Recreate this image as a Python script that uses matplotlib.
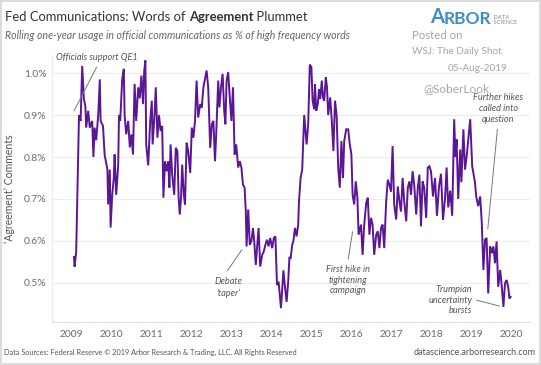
import matplotlib
matplotlib.use("Agg")
import matplotlib.pyplot as plt
from matplotlib.patches import Rectangle

plt.rcParams['font.family'] = ['Lato', 'DejaVu Sans']

# ---- data (decimal year, % of high-frequency words) ----
dates = [2009.075, 2009.09, 2009.13, 2009.16, 2009.20, 2009.24, 2009.28, 2009.32, 2009.36, 2009.38,
         2009.43, 2009.47, 2009.53, 2009.56, 2009.59, 2009.63, 2009.68, 2009.72, 2009.74, 2009.80,
         2009.84, 2009.91, 2009.93, 2009.97, 2009.99, 2010.03, 2010.07, 2010.09, 2010.13, 2010.18,
         2010.20, 2010.23, 2010.28, 2010.32, 2010.34, 2010.38, 2010.43, 2010.47, 2010.51, 2010.55,
         2010.59, 2010.63, 2010.68, 2010.72, 2010.76, 2010.80, 2010.83, 2010.86, 2010.88, 2010.93,
         2010.98, 2011.02, 2011.04, 2011.08, 2011.12, 2011.16, 2011.20, 2011.24, 2011.28, 2011.31,
         2011.35, 2011.39, 2011.43, 2011.46, 2011.49, 2011.53, 2011.58, 2011.62, 2011.66, 2011.69,
         2011.72, 2011.75, 2011.78, 2011.82, 2011.85, 2011.89, 2011.93, 2011.98, 2012.02, 2012.06,
         2012.10, 2012.14, 2012.18, 2012.23, 2012.27, 2012.31, 2012.35, 2012.39, 2012.43, 2012.48,
         2012.52, 2012.56, 2012.60, 2012.63, 2012.68, 2012.71, 2012.75, 2012.79, 2012.83, 2012.86,
         2012.89, 2012.93, 2012.98, 2013.01, 2013.05, 2013.09, 2013.13, 2013.18, 2013.22, 2013.26,
         2013.30, 2013.34, 2013.37, 2013.39, 2013.43, 2013.47, 2013.51, 2013.55, 2013.58, 2013.62,
         2013.65, 2013.69, 2013.73, 2013.78, 2013.82, 2013.86, 2013.90, 2013.94, 2013.98, 2014.03,
         2014.07, 2014.11, 2014.15, 2014.19, 2014.25, 2014.31, 2014.35, 2014.39, 2014.43, 2014.46,
         2014.49, 2014.53, 2014.56, 2014.60, 2014.64, 2014.68, 2014.70, 2014.74, 2014.78, 2014.83,
         2014.87, 2014.89, 2014.93, 2014.97, 2015.01, 2015.04, 2015.08, 2015.10, 2015.13, 2015.17,
         2015.20, 2015.23, 2015.27, 2015.30, 2015.33, 2015.37, 2015.40, 2015.43, 2015.48, 2015.52,
         2015.56, 2015.60, 2015.64, 2015.68, 2015.72, 2015.76, 2015.80, 2015.83, 2015.88, 2015.93,
         2015.97, 2016.01, 2016.04, 2016.08, 2016.12, 2016.16, 2016.19, 2016.25, 2016.29, 2016.33,
         2016.38, 2016.42, 2016.46, 2016.50, 2016.54, 2016.58, 2016.63, 2016.67, 2016.71, 2016.75,
         2016.79, 2016.83, 2016.88, 2016.92, 2016.96, 2017.00, 2017.04, 2017.08, 2017.13, 2017.17,
         2017.21, 2017.25, 2017.29, 2017.33, 2017.38, 2017.42, 2017.46, 2017.50, 2017.54, 2017.58,
         2017.63, 2017.67, 2017.71, 2017.75, 2017.79, 2017.83, 2017.88, 2017.92, 2017.96, 2018.00,
         2018.05, 2018.10, 2018.15, 2018.20, 2018.25, 2018.30, 2018.35, 2018.39, 2018.43, 2018.48,
         2018.53, 2018.58, 2018.61, 2018.64, 2018.68, 2018.73, 2018.76, 2018.81, 2018.85, 2018.89,
         2018.93, 2018.98, 2019.03, 2019.10, 2019.13, 2019.18, 2019.23, 2019.27, 2019.31, 2019.35,
         2019.39, 2019.43, 2019.48, 2019.52, 2019.56, 2019.60, 2019.64, 2019.68, 2019.73, 2019.77,
         2019.81, 2019.85, 2019.89, 2019.93, 2019.96, 2019.99]
values = [0.562, 0.539, 0.575, 0.71, 0.90, 0.886, 1.017, 0.94, 0.92, 0.87,
          0.91, 0.87, 0.886, 0.80, 0.87, 0.84, 0.90, 0.985, 0.886, 0.874,
          0.806, 0.77, 0.687, 0.77, 0.632, 0.71, 0.75, 0.806, 0.71, 0.78,
          0.90, 0.886, 0.985, 1.01, 0.90, 0.854, 0.886, 0.823, 0.854, 0.806,
          0.974, 0.886, 0.966, 0.94, 0.994, 0.926, 1.005, 1.03, 0.83, 0.78,
          0.886, 0.934, 0.83, 0.886, 0.966, 0.846, 0.90, 0.862, 0.874, 0.703,
          0.79, 0.766, 0.79, 0.727, 0.83, 0.758, 0.71, 0.822, 0.814, 0.703,
          0.663, 0.703, 0.782, 0.71, 0.687, 0.834, 0.814, 0.762, 0.87, 0.846,
          0.886, 0.982, 0.894, 0.926, 0.918, 0.966, 0.986, 1.006, 0.966, 0.822,
          0.878, 0.886, 0.79, 0.854, 0.982, 0.918, 0.966, 0.998, 0.91, 0.878,
          0.982, 1.002, 0.926, 0.886, 0.966, 0.806, 0.83, 0.775, 0.79, 0.775,
          0.734, 0.727, 0.67, 0.587, 0.675, 0.591, 0.60, 0.631, 0.60, 0.543,
          0.583, 0.631, 0.539, 0.567, 0.575, 0.591, 0.603, 0.587, 0.607, 0.583,
          0.607, 0.611, 0.495, 0.503, 0.44, 0.53, 0.49, 0.455, 0.503, 0.56,
          0.559, 0.59, 0.60, 0.631, 0.611, 0.639, 0.695, 0.75, 0.77, 0.90,
          0.854, 0.83, 0.878, 1.02, 1.014, 0.934, 0.914, 0.974, 0.91, 0.926,
          0.962, 0.938, 0.982, 0.942, 0.934, 0.99, 0.966, 0.90, 0.942, 0.886,
          0.814, 0.934, 0.90, 0.775, 0.727, 0.838, 0.75, 0.838, 0.866, 0.866,
          0.83, 0.806, 0.71, 0.687, 0.742, 0.703, 0.615, 0.639, 0.567, 0.639,
          0.69, 0.703, 0.615, 0.655, 0.639, 0.567, 0.615, 0.623, 0.583, 0.631,
          0.639, 0.583, 0.695, 0.746, 0.734, 0.718, 0.826, 0.687, 0.651, 0.73,
          0.695, 0.67, 0.75, 0.695, 0.647, 0.727, 0.742, 0.71, 0.766, 0.734,
          0.663, 0.727, 0.758, 0.635, 0.742, 0.727, 0.655, 0.775, 0.778, 0.766,
          0.706, 0.75, 0.66, 0.73, 0.76, 0.65, 0.70, 0.775, 0.68, 0.72,
          0.66, 0.89, 0.80, 0.842, 0.70, 0.818, 0.74, 0.866, 0.77, 0.80,
          0.84, 0.89, 0.778, 0.739, 0.706, 0.683, 0.706, 0.643, 0.531, 0.603,
          0.607, 0.475, 0.587, 0.571, 0.587, 0.547, 0.599, 0.491, 0.531, 0.491,
          0.443, 0.499, 0.507, 0.491, 0.463, 0.467]

years = list(range(2009, 2021))
year_labels = [str(y) for y in years]
yticks = [0.5, 0.6, 0.7, 0.8, 0.9, 1.0]
ytick_labels = ['0.5%', '0.6%', '0.7%', '0.8%', '0.9%', '1.0%']

W, H = 541, 365
fig = plt.figure(figsize=(W / 100, H / 100), dpi=100)
fig.patch.set_facecolor('white')


def fx(x):
    return x / W


def fy(y):
    return 1 - y / H


ax = fig.add_axes([fx(52), fy(322), fx(530) - fx(52), fy(55) - fy(322)])
ax.plot(dates, values, color='#5b1597', lw=1.4, solid_joinstyle='miter')
ax.set_xlim(2008.525, 2020.475)
ax.set_ylim(0.407, 1.043)
ax.set_yticks(yticks)
ax.set_yticklabels(ytick_labels)
ax.set_xticks(years)
ax.set_xticklabels(year_labels)
ax.tick_params(axis='both', length=0, colors='#6b6b6b', labelsize=7.4)
ax.tick_params(axis='y', pad=4)
ax.tick_params(axis='x', pad=6)
ax.grid(axis='y', color='#ededed', lw=0.8)
ax.set_axisbelow(True)
for s in ['top', 'right']:
    ax.spines[s].set_visible(False)
ax.spines['left'].set_color('#ececec')
ax.spines['left'].set_linewidth(0.8)
ax.spines['bottom'].set_color('#d8d8d8')
ax.spines['bottom'].set_linestyle((0, (1, 1.5)))
ax.spines['bottom'].set_linewidth(0.8)
ax.set_ylabel("\u2018Agreement\u2019 Comments", color='#555555', fontsize=7.6, labelpad=6)

# annotations
ann = dict(fontsize=6.6, style='italic', color='#555555', ha='center', va='center',
           linespacing=1.25)
arrow = dict(arrowstyle='-', color='#777777', lw=0.7, shrinkA=0, shrinkB=0)
ax.annotate('', xy=(2009.075, 0.91), xytext=(2009.64, 1.014), arrowprops=arrow)
ax.text(2009.65, 1.038, 'Officials support QE1', **ann)
ax.annotate('', xy=(2013.27, 0.579), xytext=(2012.91, 0.529), arrowprops=arrow)
ax.text(2012.93, 0.489, "Debate\n\u2018taper\u2019", **ann)
ax.annotate('', xy=(2016.04, 0.622), xytext=(2015.93, 0.557), arrowprops=arrow)
ax.text(2015.93, 0.507, 'First hike in\ntightening\ncampaign', **ann)
ax.annotate('', xy=(2019.42, 0.629), xytext=(2019.66, 0.866), arrowprops=arrow)
ax.text(2019.68, 0.916, 'Further hikes\ncalled into\nquestion', **ann)
ax.annotate('', xy=(2019.71, 0.445), xytext=(2019.14, 0.459), arrowprops=arrow)
t = dict(ann)
t['ha'] = 'right'
ax.text(2019.03, 0.459, 'Trumpian\nuncertainty\nbursts', **t)

# title (mixed weight)
tfs = 9.4
t1 = fig.text(fx(5), fy(21), 'Fed Communications: Words of ', fontsize=tfs,
              color='#333333', va='baseline', ha='left')
t2 = ax.annotate('Agreement', xy=(1, 0), xycoords=t1, va='bottom', ha='left',
                 fontsize=tfs, fontweight='bold', color='#333333', annotation_clip=False)
ax.annotate(' Plummet', xy=(1, 0), xycoords=t2, va='bottom', ha='left',
            fontsize=tfs, color='#333333', annotation_clip=False)
fig.text(fx(5), fy(39), 'Rolling one-year usage in official communications as % of high frequency words',
         fontsize=7.6, style='italic', color='#666666', va='baseline', ha='left')

# logo and posting info
a1 = fig.text(fx(430), fy(23), 'A', fontsize=14.5, fontweight='bold', color='#3d8dc9',
              va='baseline', ha='left')
a2 = ax.annotate('RBOR', xy=(1, 0), xycoords=a1, va='bottom', ha='left', fontsize=12.5,
                 fontweight='bold', color='#3d8dc9', annotation_clip=False)
ax.annotate(' DATA\n SCIENCE', xy=(1, 0.1), xycoords=a2, va='bottom', ha='left', fontsize=4.2,
            color='#8a8a8a', linespacing=1.1, annotation_clip=False)
grey = '#a6a6a6'
fig.text(fx(412), fy(39), 'Posted on', fontsize=8.2, color=grey, va='baseline')
fig.text(fx(412), fy(54), 'WSJ: The Daily Shot', fontsize=7.2, color=grey, va='baseline')
fig.text(fx(507), fy(71), '05-Aug-2019', fontsize=7.2, color=grey, va='baseline', ha='right')
fig.text(fx(423), fy(92), '@SoberLook', fontsize=8.6, color=grey, va='baseline')

# footer
fig.text(fx(4), fy(355), 'Data Sources: Federal Reserve \u00a9 2019 Arbor Research & Trading, LLC. All Rights Reserved',
         fontsize=5.35, color='#555555', va='baseline', ha='left')
fig.text(fx(536), fy(355), 'datascience.arborresearch.com', fontsize=6.5, color='#555555',
         va='baseline', ha='right')

fig.add_artist(Rectangle((0.001, 0.002), 0.997, 0.995, transform=fig.transFigure,
                         fill=False, edgecolor='#d6d6d6', lw=1.2))

fig.savefig('out.png', dpi=100, facecolor='white')
